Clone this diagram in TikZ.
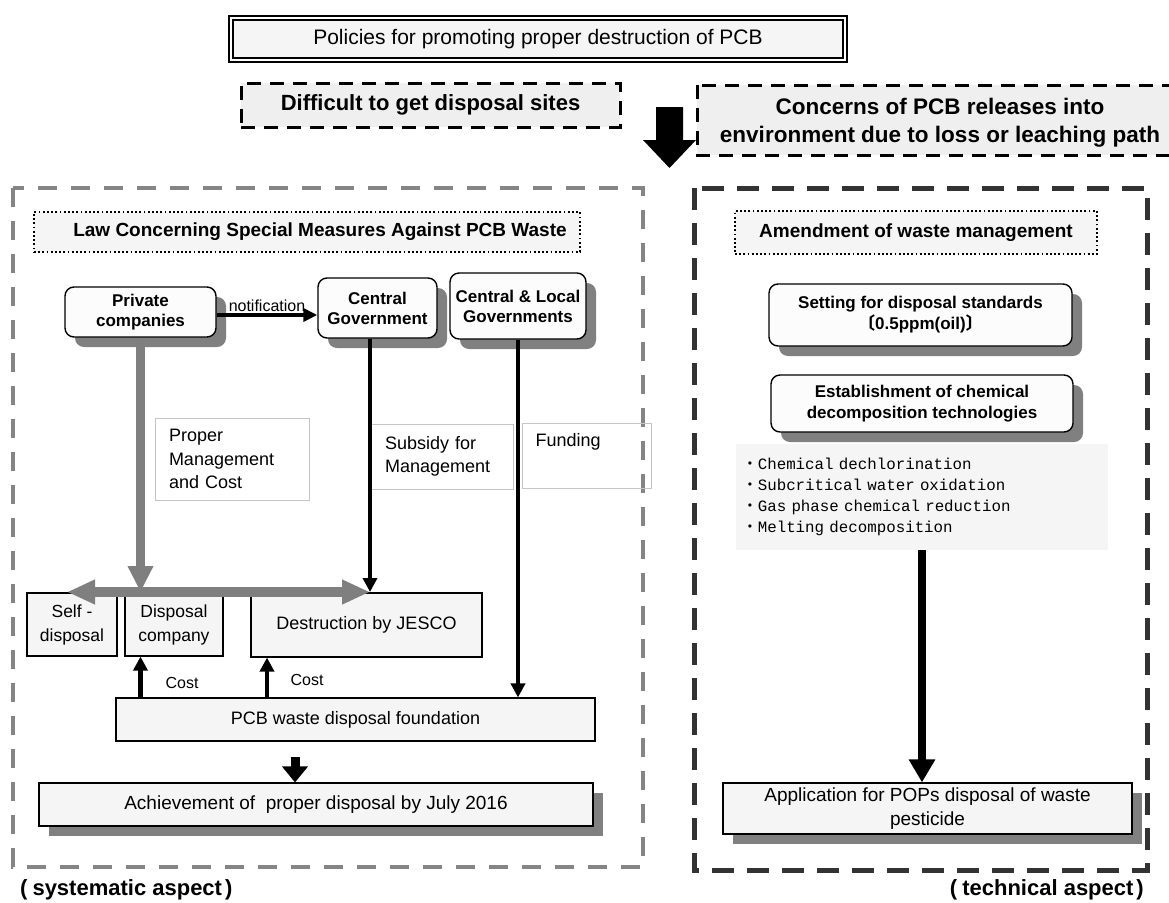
\documentclass[tikz,border=0pt]{standalone}
\usepackage{fontspec}
\setmainfont{Liberation Sans}
\newfontfamily\monof{Liberation Mono}
\newfontfamily\cjk{Noto Sans CJK JP}
\usetikzlibrary{arrows.meta,shadows,calc}
\definecolor{shadowc}{HTML}{808080}
\definecolor{grayarr}{HTML}{7F7F7F}
\definecolor{graydash}{HTML}{858585}
\definecolor{darkdash}{HTML}{333333}
\definecolor{boxfill}{HTML}{F5F5F5}
\definecolor{lightfill}{HTML}{EFEFEF}
\definecolor{rfill}{HTML}{FCFCFC}
\definecolor{lblline}{HTML}{C4C4C4}
\newcommand\myfs[2]{\fontsize{#1}{#2}\selectfont}
\begin{document}
\begin{tikzpicture}[x=1pt,y=-1pt,
  titlebox/.style={draw=black,double=white,double distance=2.5pt,line width=1.6pt,fill=boxfill,inner sep=0pt,font=\myfs{21}{25}},
  topdash/.style={draw=black,line width=3pt,dash pattern=on 14pt off 9pt,fill=lightfill},
  dotbox/.style={draw=black,line width=1.8pt,dash pattern=on 1.8pt off 2.4pt,fill=boxfill,inner sep=0pt,font=\bfseries\myfs{19}{23}},
  rbox/.style={draw=black,line width=1.4pt,rounded corners=9pt,fill=rfill,inner sep=0pt,align=center,
     drop shadow={shadow xshift=10pt,shadow yshift=-10pt,fill=shadowc,opacity=1}},
  sbox/.style={draw=black,line width=1.1pt,fill=boxfill,inner sep=0pt,align=center,font=\myfs{17.5}{24}},
  shbox/.style={sbox,drop shadow={shadow xshift=10pt,shadow yshift=-10pt,fill=shadowc,opacity=1}},
  lbl/.style={draw=lblline,line width=0.9pt,inner xsep=14pt,inner ysep=0pt,align=left,font=\myfs{18}{23.5}},
  gthick/.style={draw=grayarr,line width=9pt,-{Triangle[width=24pt,length=26pt]}},
  gdouble/.style={draw=grayarr,line width=10pt,{Triangle[width=23pt,length=28pt]}-{Triangle[width=23pt,length=28pt]}},
  bthin/.style={draw=black,line width=4.5pt,-{Triangle[width=14pt,length=14pt]}},
  bthick/.style={draw=black,line width=9pt,-{Triangle[width=25pt,length=16pt]}},
  bthick2/.style={draw=black,line width=8.5pt,-{Triangle[width=25pt,length=23pt]}},
  plain/.style={inner sep=0pt}
]
\useasboundingbox (0,0) rectangle (1169,902);
\clip (0,0) rectangle (1169,902);
\fill[white] (0,0) rectangle (1169,902);

% top part
\node[titlebox,minimum width=614pt,minimum height=42pt] (title) at (538,39) {Policies for promoting proper destruction of PCB};
\node[topdash,minimum width=379pt,minimum height=44pt,font=\bfseries\myfs{22}{26}] (diff) at (430.5,105) {Difficult to get disposal sites};
\draw[topdash] (697,85) rectangle (1200,155);
\node[plain,align=center,font=\bfseries\myfs{22.5}{28}] (conc) at (940,123) {Concerns of PCB releases into\\environment due to loss or leaching path};
\fill[black] (656,107) -- (683,107) -- (683,140) -- (696,140) -- (669.5,168) -- (643,140) -- (656,140) -- cycle;

% panels
\draw[draw=graydash,line width=4.5pt,dash pattern=on 19pt off 14pt] (13,188) rectangle (643,867);
\draw[draw=darkdash,line width=5pt,dash pattern=on 22pt off 13pt] (694,188) rectangle (1147,870);

% left panel
\node[dotbox,minimum width=546pt,minimum height=40pt] (law) at (307,232) {\hspace*{26pt}Law Concerning Special Measures Against PCB Waste};
\node[rbox,minimum width=151pt,minimum height=50pt,font=\bfseries\myfs{17}{20}] (priv) at (140.5,312) {Private\\companies};
\node[rbox,minimum width=119pt,minimum height=60pt,font=\bfseries\myfs{17}{20}] (cgov) at (377.5,308) {Central\\Government};
\node[rbox,minimum width=136pt,minimum height=66pt,font=\bfseries\myfs{17}{20}] (clgov) at (518,306) {Central \& Local\\Governments};

\node[lbl,minimum width=154pt,minimum height=82pt,text width=126pt] (proper) at (232,459) {Proper\\Management\\and Cost};
\node[lbl,minimum width=142pt,minimum height=65pt,text width=114pt] (subsidy) at (442,456.5) {Subsidy for\\Management};
\node[lbl,minimum width=129pt,minimum height=65pt,text width=102pt,inner xsep=13pt] (funding) at (586.5,455.5) {Funding\\\strut};

\node[sbox,minimum width=90pt,minimum height=63pt] (selfd) at (72,624.5) {Self -\\disposal};
\node[sbox,minimum width=98pt,minimum height=63pt] (dispc) at (174,624.5) {Disposal\\company};
\node[sbox,minimum width=231pt,minimum height=64pt,font=\myfs{18}{22}] (jesco) at (366.5,625) {Destruction by JESCO};
\node[sbox,minimum width=479pt,minimum height=43pt,font=\myfs{18}{22}] (found) at (355.5,719.5) {PCB waste disposal foundation};
\node[shbox,minimum width=554pt,minimum height=43pt,font=\myfs{19}{23}] (achieve) at (316,804.5) {Achievement of \ proper disposal by July 2016};

\coordinate (hl) at (67,592);
\coordinate (hr) at (370,592);
\coordinate (ny) at (0,315);
\coordinate (c2) at (267,0);
\coordinate (a1) at (295,757);

\draw[draw=black,line width=4pt,-{Triangle[width=13pt,length=14pt]}] (priv.east |- ny) -- (cgov.west |- ny)
  node[midway,above=1pt,font=\myfs{16}{19},inner sep=0pt] (notif) {notification};
\draw[gthick] (priv.south) -- (priv.south |- hl);
\draw[gdouble] (hl) -- (hr);
\draw[bthin] (cgov.south -| hr) -- (hr);
\draw[bthin] (clgov.south) -- (clgov.south |- found.north);
\draw[bthin] (found.north -| priv.south) -- (dispc.south -| priv.south);
\draw[bthin] (found.north -| c2) -- (jesco.south -| c2);
\node[plain,font=\myfs{16}{19}] (cost1) at (182,683) {Cost};
\node[plain,font=\myfs{16}{19}] (cost2) at (307,680) {Cost};
\draw[bthick] (a1) -- (a1 |- achieve.north);

% right panel
\node[dotbox,minimum width=362pt,minimum height=43pt] (amend) at (916,232.5) {Amendment of waste management};
\node[rbox,minimum width=303pt,minimum height=62pt,font=\bfseries\myfs{17}{21}] (setting) at (920.5,315) {Setting for disposal standards\\{\cjk 〔}0.5ppm(oil){\cjk 〕}};
\node[rbox,minimum width=302pt,minimum height=57pt,font=\bfseries\myfs{17}{21}] (estab) at (922,403.5) {Establishment of chemical\\decomposition technologies};
\node[fill=boxfill,minimum width=372pt,minimum height=106pt,text width=360pt,inner xsep=6pt,align=left,font=\monof\myfs{15.8}{21}] (list) at (922,497)
  {{\cjk ・}Chemical dechlorination\\{\cjk ・}Subcritical water oxidation\\{\cjk ・}Gas phase chemical reduction\\{\cjk ・}Melting decomposition};
\node[shbox,minimum width=409pt,minimum height=51pt,font=\myfs{19}{24}] (appl) at (927.5,808.5) {Application for POPs disposal of waste\\pesticide};
\draw[bthick2] (list.south) -- (list.south |- appl.north);

% aspect labels
\node[plain,anchor=west,font=\bfseries\myfs{22}{26}] (sys) at (20,890) {(\hspace{5pt}systematic aspect\hspace{3pt})};
\node[plain,anchor=east,font=\bfseries\myfs{22}{26}] (tech) at (1144,890) {(\hspace{5pt}technical aspect\hspace{3pt})};
\end{tikzpicture}
\end{document}
